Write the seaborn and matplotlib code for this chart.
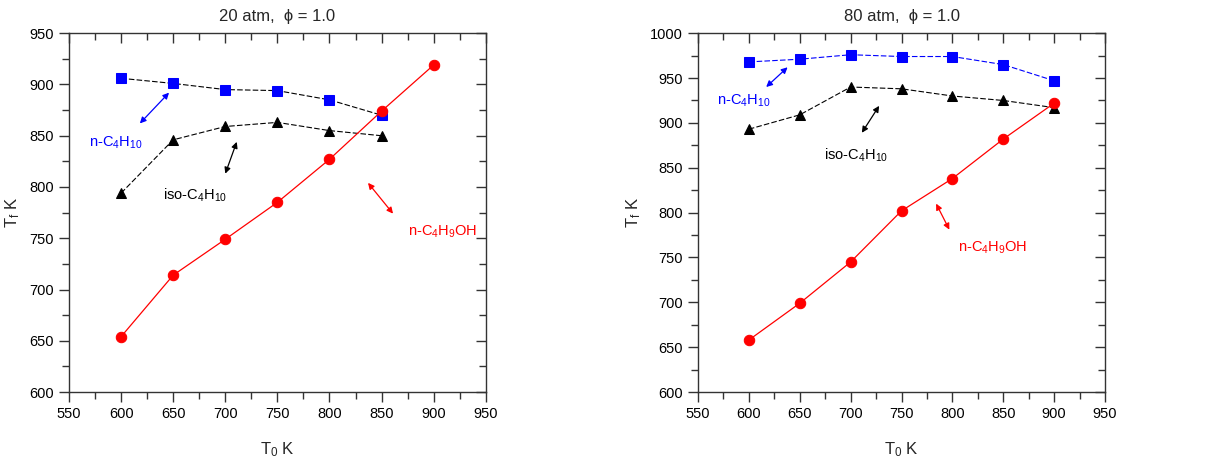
import matplotlib
matplotlib.use("Agg")
import matplotlib.pyplot as plt
from matplotlib.ticker import MultipleLocator
import seaborn as sns


# ---------------- data ----------------
t0 = [600, 650, 700, 750, 800, 850, 900]

# 20 atm
n_c4h10_20 = [906, 901, 895, 894, 885, 870]
iso_c4h10_20 = [794, 846, 859, 863, 855, 850]
n_c4h9oh_20 = [654, 714, 749, 785, 827, 874, 919]

# 80 atm
n_c4h10_80 = [968, 971, 976, 974, 974, 965, 947]
iso_c4h10_80 = [893, 909, 940, 938, 930, 925, 917]
n_c4h9oh_80 = [658, 699, 745, 802, 838, 882, 922]

titles = ["20 atm,  \u03d5 = 1.0", "80 atm,  \u03d5 = 1.0"]
ylims = [(600, 950), (600, 1000)]

labels = ["n-C$_4$H$_{10}$", "iso-C$_4$H$_{10}$", "n-C$_4$H$_9$OH"]
label_colors = ["blue", "black", "red"]

# label positions and arrow ends (data coords) per panel
label_pos = [
    [(595, 843), (671, 792), (909, 756)],
    [(595, 925), (705, 864), (840, 761)],
]
arrows = [
    [((618, 862), (646, 892)), ((700, 813), (711, 844)), ((837, 804), (861, 774))],
    [((617, 940), (638, 962)), ((711, 889), (728, 919)), ((784, 810), (797, 781))],
]
ylabel_x = [-0.112, -0.135]

# ---------------- style ----------------
sns.set_style("ticks")
plt.rcParams["font.family"] = ["Liberation Sans", "DejaVu Sans"]
plt.rcParams["mathtext.fontset"] = "custom"
plt.rcParams["mathtext.rm"] = "Liberation Sans"
plt.rcParams["mathtext.it"] = "Liberation Sans"
plt.rcParams["mathtext.default"] = "rm"

fig = plt.figure(figsize=(12.15, 4.63), dpi=100)
ax1 = fig.add_axes([0.0568, 0.1533, 0.343, 0.775])
ax2 = fig.add_axes([0.5745, 0.1533, 0.335, 0.775])

# 20 atm panel
sns.lineplot(x=t0[:6], y=n_c4h10_20, ax=ax1, color="black", linestyle=(0, (5, 2)),
             lw=0.8, marker="s", markersize=7, markerfacecolor="blue",
             markeredgecolor="blue")
sns.lineplot(x=t0[:6], y=iso_c4h10_20, ax=ax1, color="black", linestyle=(0, (5, 2)),
             lw=0.8, marker="^", markersize=7.5, markerfacecolor="black",
             markeredgecolor="black")
sns.lineplot(x=t0, y=n_c4h9oh_20, ax=ax1, color="red", linestyle="-",
             lw=0.9, marker="o", markersize=7.5, markerfacecolor="red",
             markeredgecolor="red")

# 80 atm panel
sns.lineplot(x=t0, y=n_c4h10_80, ax=ax2, color="blue", linestyle=(0, (5, 2)),
             lw=0.8, marker="s", markersize=7, markerfacecolor="blue",
             markeredgecolor="blue")
sns.lineplot(x=t0, y=iso_c4h10_80, ax=ax2, color="black", linestyle=(0, (5, 2)),
             lw=0.8, marker="^", markersize=7.5, markerfacecolor="black",
             markeredgecolor="black")
sns.lineplot(x=t0, y=n_c4h9oh_80, ax=ax2, color="red", linestyle="-",
             lw=0.9, marker="o", markersize=7.5, markerfacecolor="red",
             markeredgecolor="red")

for i, ax in enumerate([ax1, ax2]):
    ax.set_xlim(550, 950)
    ax.set_ylim(*ylims[i])
    ax.xaxis.set_major_locator(MultipleLocator(50))
    ax.xaxis.set_minor_locator(MultipleLocator(25))
    ax.yaxis.set_major_locator(MultipleLocator(50))
    ax.yaxis.set_minor_locator(MultipleLocator(25))
    ax.tick_params(which="both", direction="out", top=False, right=False,
                   colors="#333333", labelcolor="black", labelsize=10.5, width=1)
    ax.tick_params(which="major", length=7, pad=4)
    ax.tick_params(which="minor", length=5)
    # inward ticks on top and right
    sec_x = ax.secondary_xaxis("top")
    sec_x.xaxis.set_major_locator(MultipleLocator(50))
    sec_x.xaxis.set_minor_locator(MultipleLocator(25))
    sec_x.tick_params(which="both", direction="in", labeltop=False,
                      colors="#333333", width=1)
    sec_x.tick_params(which="major", length=7)
    sec_x.tick_params(which="minor", length=5)
    sec_y = ax.secondary_yaxis("right")
    sec_y.yaxis.set_major_locator(MultipleLocator(50))
    sec_y.yaxis.set_minor_locator(MultipleLocator(25))
    sec_y.tick_params(which="both", direction="in", labelright=False,
                      colors="#333333", width=1)
    sec_y.tick_params(which="major", length=7)
    sec_y.tick_params(which="minor", length=5)
    for s in ax.spines.values():
        s.set_color("#333333")
        s.set_linewidth(1)
    for s in list(sec_x.spines.values()) + list(sec_y.spines.values()):
        s.set_visible(False)

    ax.set_xlabel("T$_0$ K", fontsize=12, labelpad=14)
    ax.set_ylabel("T$_f$ K", fontsize=12)
    ax.yaxis.set_label_coords(ylabel_x[i], 0.5)
    ax.set_title(titles[i], fontsize=12, pad=9)

    for (lx, ly), txt, col in zip(label_pos[i], labels, label_colors):
        ax.text(lx, ly, txt, color=col, fontsize=10.5, ha="center", va="center")
    for (p0, p1), col in zip(arrows[i], label_colors):
        ax.annotate("", xy=p1, xytext=p0,
                    arrowprops=dict(arrowstyle="<|-|>", color=col, lw=0.9,
                                    mutation_scale=9, shrinkA=0, shrinkB=0))

fig.savefig("out.png", dpi=100)
